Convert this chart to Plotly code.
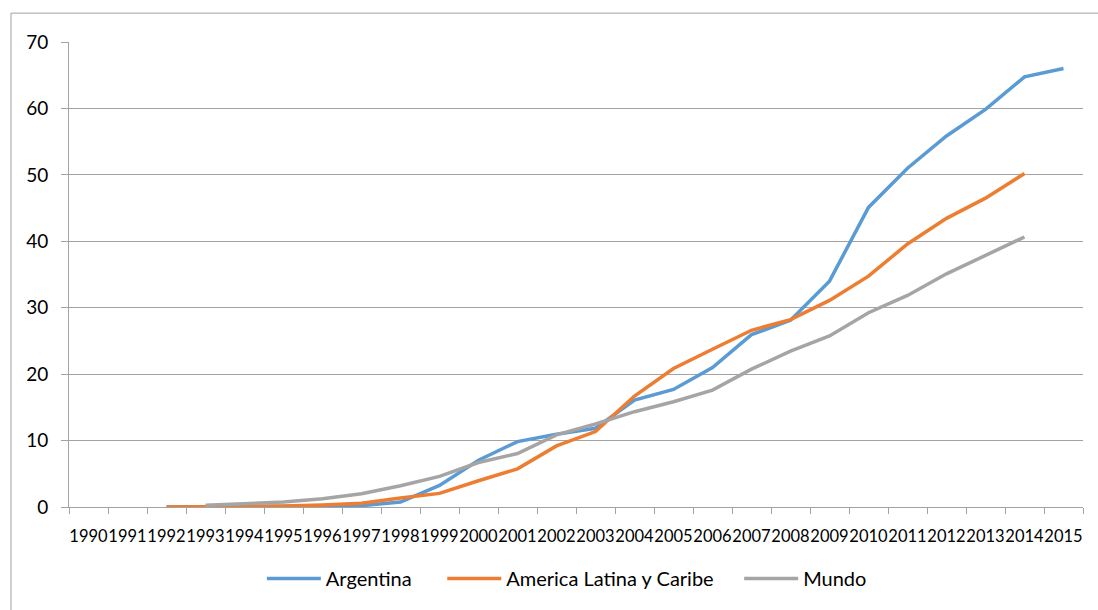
import plotly.graph_objects as go

years = [str(y) for y in range(1990, 2016)]

# Values per year, 1990..2015 (None = no data)
argentina = [None, None, 0.0, 0.02, 0.03, 0.06, 0.1, 0.2, 0.75, 3.25, 7.05, 9.85,
             10.95, 11.85, 16.1, 17.7, 21.0, 25.95, 28.1, 34.0, 45.1, 51.0,
             55.85, 59.85, 64.75, 66.0]
america_latina = [None, None, 0.0, 0.02, 0.05, 0.15, 0.3, 0.55, 1.35, 2.05, 3.95, 5.75,
                  9.2, 11.35, 16.7, 20.85, 23.75, 26.6, 28.2, 31.1, 34.75, 39.6,
                  43.45, 46.5, 50.2, None]
mundo = [None, None, None, 0.25, 0.45, 0.75, 1.25, 2.0, 3.2, 4.6, 6.7, 8.05,
         10.85, 12.5, 14.35, 15.85, 17.6, 20.75, 23.45, 25.75, 29.25, 31.85,
         35.1, 37.85, 40.65, None]

series = [
    ("Argentina", argentina, "#5B9BD5"),
    ("America Latina y Caribe", america_latina, "#ED7D31"),
    ("Mundo", mundo, "#A5A5A5"),
]

# non-breaking spaces widen the gap between legend entries
pads = ["\u00a0" * 5, "\u00a0" * 4, ""]

fig = go.Figure()
for (name, vals, color), pad in zip(series, pads):
    fig.add_trace(go.Scatter(
        x=years, y=vals, name=name + pad, mode="lines",
        line=dict(color=color, width=3.5),
        connectgaps=False,
    ))

grid = "#a3a3a3"
fig.update_layout(
    width=1098, height=610,
    margin=dict(l=69, r=15, t=42, b=101),
    paper_bgcolor="white", plot_bgcolor="white",
    font=dict(family="Lato", color="#000000"),
    showlegend=True,
    legend=dict(
        orientation="h", x=0.491, xanchor="center", y=-0.154, yanchor="middle",
        font=dict(size=20, family="Lato"),
        itemwidth=54,
    ),
    xaxis=dict(
        type="category", categoryorder="array", categoryarray=years,
        range=[-0.5, 25.5],
        showgrid=False, showline=True, linecolor=grid, linewidth=1,
        ticks="outside", tickson="boundaries", ticklen=6, tickcolor=grid,
        tickfont=dict(size=16.5, family="Lato"), tickangle=0,
        ticklabelstandoff=14,
    ),
    yaxis=dict(
        range=[0, 70], dtick=10,
        showgrid=True, gridcolor=grid, gridwidth=1,
        showline=True, linecolor=grid, linewidth=1,
        ticks="outside", ticklen=7, tickcolor=grid,
        tickfont=dict(size=19, family="Lato"),
        ticklabelstandoff=9,
        zeroline=False,
    ),
    shapes=[dict(
        type="rect", xref="paper", yref="paper",
        x0=(11 - 69) / 1014, x1=1.2, y0=-0.5, y1=(509 - 13) / 467,
        line=dict(color="#a0a0a0", width=1), layer="below",
    )],
)

fig.write_html("out.html")
